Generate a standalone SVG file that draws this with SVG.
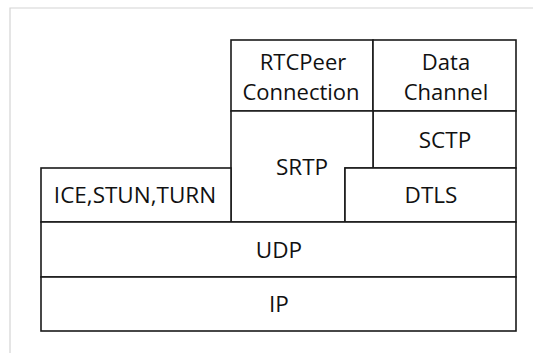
<svg xmlns="http://www.w3.org/2000/svg" width="533" height="353" viewBox="0 0 533 353">
  <style>
    .box { fill: #ffffff; stroke: #1a1a1a; stroke-width: 1.6; stroke-linejoin: miter; }
    .lbl { font-family: "Open Sans", "Noto Sans", "Liberation Sans", sans-serif; font-size: 22.5px; fill: #111111; text-anchor: middle; }
    .lbl2 { font-size: 22px; }
    .frame { fill: none; stroke: #d4d4d4; stroke-width: 1.2; }
  </style>
  <rect width="533" height="353" fill="#ffffff"/>
  <!-- page frame -->
  <path class="frame" d="M10,353 V8 H533"/>

  <!-- protocol stack -->
  <g id="rtcpeerconnection">
    <rect class="box" x="231" y="40" width="142" height="71"/>
    <text class="lbl lbl2" x="303" y="70">RTCPeer</text>
    <text class="lbl lbl2" x="301" y="100">Connection</text>
  </g>
  <g id="datachannel">
    <rect class="box" x="373" y="40" width="143" height="71"/>
    <text class="lbl lbl2" x="446" y="70">Data</text>
    <text class="lbl lbl2" x="446" y="100">Channel</text>
  </g>
  <g id="sctp">
    <rect class="box" x="373" y="111" width="143" height="57"/>
    <text class="lbl" x="445" y="148">SCTP</text>
  </g>
  <g id="srtp">
    <path class="box" d="M231,111 H373 V168 H345 V222 H231 Z"/>
    <text class="lbl" x="302" y="175">SRTP</text>
  </g>
  <g id="ice">
    <rect class="box" x="41" y="168" width="190" height="54"/>
    <text class="lbl" x="135" y="203">ICE,STUN,TURN</text>
  </g>
  <g id="dtls">
    <rect class="box" x="345" y="168" width="171" height="54"/>
    <text class="lbl" x="431" y="203">DTLS</text>
  </g>
  <g id="udp">
    <rect class="box" x="41" y="222" width="475" height="55"/>
    <text class="lbl" x="279" y="257.5">UDP</text>
  </g>
  <g id="ip">
    <rect class="box" x="41" y="277" width="475" height="54"/>
    <text class="lbl" x="279" y="312">IP</text>
  </g>
</svg>
